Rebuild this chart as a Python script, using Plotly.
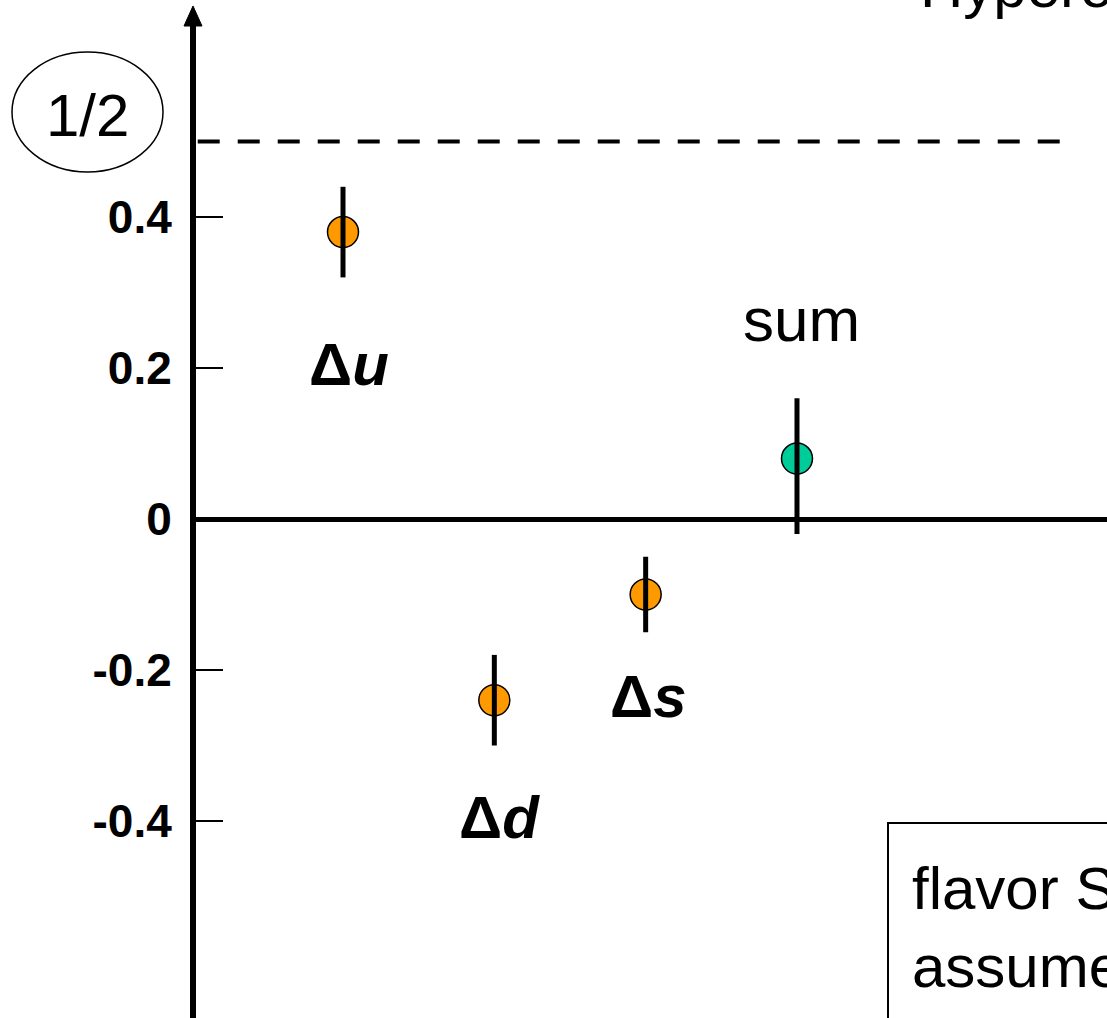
import plotly.graph_objects as go

# Quark spin contributions to the proton spin
quarks = ["Δu", "Δd", "Δs", "sum"]
labels = ["<b>Δ<i>u</i></b>", "<b>Δ<i>d</i></b>", "<b>Δ<i>s</i></b>", "sum"]
x_pos = [1, 2, 3, 4]
values = [0.38, -0.24, -0.10, 0.08]
err_plus = [0.06, 0.06, 0.05, 0.08]
err_minus = [0.06, 0.06, 0.05, 0.10]
colors = ["#FF9900", "#FF9900", "#FF9900", "#00CC99"]

spin_half = 0.5
tick_vals = [0.4, 0.2, 0.0, -0.2, -0.4]
tick_text = ["0.4", "0.2", "0", "-0.2", "-0.4"]

W, H = 1107, 1018
ML, MT = 196, 25
PW, PH = W - ML, H - MT
X0_PX, DX_PX = 343, 151.33   # pixel column of the first point, spacing
Y0_PX, DY_PX = 519, 755      # pixel row of zero, pixels per unit

FONT = "Arial, Liberation Sans, sans-serif"


def px(xp):
    return (xp - ML) / PW


def py(yp):
    return (H - yp) / PH


fig = go.Figure()

# filled circles
fig.add_trace(go.Scatter(
    x=x_pos, y=values, mode="markers",
    marker=dict(size=31, color=colors, line=dict(color="black", width=1.5)),
    showlegend=False, hoverinfo="skip",
))
# error bars drawn over the circles
fig.add_trace(go.Scatter(
    x=x_pos, y=values, mode="markers",
    marker=dict(size=1, color="rgba(0,0,0,0)"),
    error_y=dict(type="data", symmetric=False, array=err_plus,
                 arrayminus=err_minus, color="black", thickness=5, width=0),
    showlegend=False, hoverinfo="skip",
))

# dashed reference line at 1/2
fig.add_trace(go.Scatter(
    x=[0.04, 5.74], y=[spin_half, spin_half], mode="lines",
    line=dict(color="black", width=4, dash="22px,18px"),
    showlegend=False, hoverinfo="skip",
))

# labels for each point
label_offsets = [(6, 0.205, 60), (5, -0.395, 60), (3, -0.235, 60),
                 (5, 0.264, 62)]
annotations = []
for xi, lab, (dxp, ylab, fs) in zip(x_pos, labels, label_offsets):
    annotations.append(dict(
        x=xi, y=ylab, xref="x", yref="y", text=lab, showarrow=False,
        xshift=dxp, xanchor="center", yanchor="middle",
        font=dict(family=FONT, size=fs, color="black"),
    ))

annotations += [
    dict(x=px(87), y=py(115), xref="paper", yref="paper", text="1/2",
         showarrow=False, xanchor="center", yanchor="middle",
         font=dict(family=FONT, size=60, color="black")),
    dict(x=px(918), y=py(-49), xref="paper", yref="paper",
         text="Hyperon decays", showarrow=False, xanchor="left",
         yanchor="top", font=dict(family=FONT, size=60, color="black")),
    dict(x=px(910), y=py(853), xref="paper", yref="paper",
         text="flavor SU(3)<br>assumed", showarrow=False, xanchor="left",
         yanchor="top", align="left",
         font=dict(family=FONT, size=60, color="black")),
]

shapes = [
    # arrow head on the vertical axis
    dict(type="path", xref="paper", yref="paper",
         path=f"M {px(184)} {py(26)} L {px(193)} {py(6)} L {px(202)} {py(26)} Z",
         fillcolor="black", line=dict(color="black", width=1)),
    # ellipse around 1/2
    dict(type="circle", xref="paper", yref="paper",
         x0=px(12), x1=px(163), y0=py(172), y1=py(52),
         line=dict(color="black", width=1.5)),
    # note box
    dict(type="rect", xref="paper", yref="paper",
         x0=px(888), x1=px(1130), y0=py(1040), y1=py(823),
         line=dict(color="black", width=2), fillcolor="rgba(0,0,0,0)"),
]

fig.update_layout(
    width=W, height=H,
    margin=dict(l=ML, r=0, t=MT, b=0),
    paper_bgcolor="white", plot_bgcolor="white",
    annotations=annotations, shapes=shapes,
    xaxis=dict(range=[1 - (X0_PX - ML) / DX_PX, 1 + (W - X0_PX) / DX_PX],
               visible=False, fixedrange=True),
    yaxis=dict(range=[-(H - Y0_PX) / DY_PX, (Y0_PX - MT) / DY_PX],
               tickvals=tick_vals, ticktext=tick_text,
               ticks="inside", ticklen=27, tickwidth=2, tickcolor="black",
               showline=True, linewidth=6, linecolor="black",
               showgrid=False, zeroline=True, zerolinewidth=5,
               zerolinecolor="black",
               tickfont=dict(family=FONT, size=46, color="black",
                             weight="bold"),
               ticklabelstandoff=9, fixedrange=True),
)

fig.write_html("out.html")
